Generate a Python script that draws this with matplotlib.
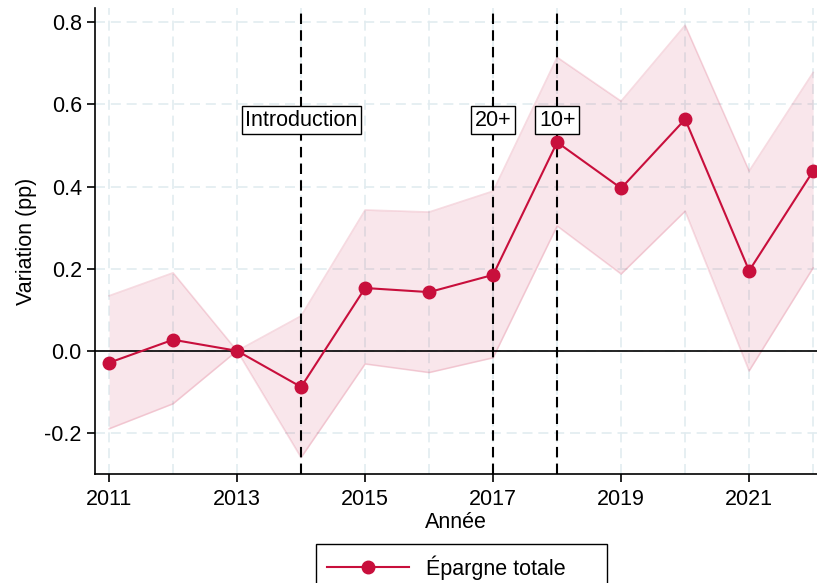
import matplotlib.pyplot as plt
from matplotlib.ticker import FixedLocator

plt.rcParams['font.family'] = ['Liberation Sans', 'DejaVu Sans']
plt.rcParams['axes.unicode_minus'] = False

# data
years = [2011, 2012, 2013, 2014, 2015, 2016, 2017, 2018, 2019, 2020, 2021, 2022]
coef = [-0.029, 0.027, 0.0, -0.088, 0.153, 0.143, 0.185, 0.508, 0.396, 0.564, 0.195, 0.438]
ci_hi = [0.134, 0.19, 0.0, 0.085, 0.343, 0.338, 0.389, 0.715, 0.608, 0.793, 0.438, 0.678]
ci_lo = [-0.19, -0.129, 0.0, -0.26, -0.032, -0.053, -0.017, 0.304, 0.187, 0.34, -0.049, 0.202]

events = [2014, 2017, 2018]
event_labels = ['Introduction', '20+', '10+']

red = '#c80f3c'
fs = 15.5

fig = plt.figure(figsize=(8.17, 5.83), dpi=100)
ax = fig.add_axes([95/817, 1 - 474/583, 1 - 95/817, 466/583])

# grid
ax.set_xlim(2010.78, 2022.06)
ax.set_ylim(-0.3, 0.835)
ax.xaxis.set_major_locator(FixedLocator([2011, 2013, 2015, 2017, 2019, 2021]))
ax.xaxis.set_minor_locator(FixedLocator([2012, 2014, 2016, 2018, 2020, 2022]))
ax.set_yticks([-0.2, 0.0, 0.2, 0.4, 0.6, 0.8])
ax.set_yticklabels(['-0.2', '0.0', '0.2', '0.4', '0.6', '0.8'])
ax.grid(True, which='both', axis='x', color='#e2ecf0', ls=(0, (6, 3.5)), lw=1.2)
ax.grid(True, which='major', axis='y', color='#e2ecf0', ls=(0, (6, 3.5)), lw=1.2)
ax.set_axisbelow(True)

# confidence band
ax.fill_between(years, ci_lo, ci_hi, color=red, alpha=0.1, lw=0, zorder=1)
ax.plot(years, ci_hi, color=red, alpha=0.15, lw=1.2, zorder=1)
ax.plot(years, ci_lo, color=red, alpha=0.15, lw=1.2, zorder=1)

ax.axhline(0, color='black', lw=1.2, zorder=2)

for yr, lab in zip(events, event_labels):
    ax.axvline(yr, color='black', ls=(0, (5, 3)), lw=1.5, zorder=3)
    ax.text(yr, 0.562, lab, ha='center', va='center', fontsize=fs, zorder=5,
            bbox=dict(boxstyle='square,pad=0.16', fc='white', ec='black', lw=1))

ax.plot(years, coef, color=red, lw=1.5, marker='o', ms=9, zorder=4,
        label='Épargne totale')

for s in ['top', 'right']:
    ax.spines[s].set_visible(False)
ax.spines['left'].set_linewidth(1.2)
ax.spines['bottom'].set_linewidth(1.2)
ax.tick_params(axis='both', which='major', length=6, width=1.2, labelsize=fs)
ax.tick_params(axis='x', which='major', pad=5)
ax.tick_params(axis='x', which='minor', length=0)

ax.set_xlabel('Année', fontsize=fs, labelpad=1)
ax.set_ylabel('Variation (pp)', fontsize=fs, labelpad=5)

fig.legend(loc='upper left', bbox_to_anchor=(316/817, 1 - 545/583, 291/817, 0.001),
           mode='expand', fontsize=fs, frameon=True, fancybox=False,
           edgecolor='black', framealpha=1, handlelength=3.8, handletextpad=0.8,
           borderpad=0.5, borderaxespad=0)

fig.savefig('out.png', dpi=100)
